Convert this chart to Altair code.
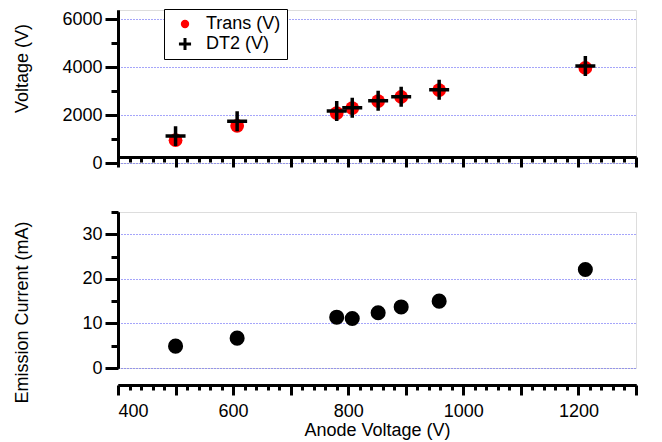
import altair as alt
import pandas as pd

# ---- data ----
anode = [500, 607, 780, 807, 852, 892, 958, 1212]
trans = [950, 1550, 2080, 2290, 2580, 2750, 3040, 3960]
dt2 = [1120, 1740, 2170, 2300, 2590, 2760, 3050, 4040]
emission = [4.9, 6.7, 11.4, 11.1, 12.4, 13.7, 15.0, 22.1]
series_names = ["Trans (V)", "DT2 (V)"]

x_major = list(range(400, 1301, 100))
x_minor = [v for v in range(400, 1301, 20) if v % 100 != 0]
v_major = [0, 2000, 4000, 6000]
v_minor = [1000, 3000, 5000]
c_major = [0, 10, 20, 30]
c_minor = [5, 15, 25, 35]

FONT = "Liberation Sans"
FS = 18
CROSS = "M -1.45 0 L 1.45 0 M 0 -1.45 L 0 1.45"
GRID = "#4a4af5"

volt_df = pd.DataFrame({
    "anode": anode + anode,
    "volt": trans + dt2,
    "series": [series_names[0]] * len(anode) + [series_names[1]] * len(anode),
})
em_df = pd.DataFrame({"anode": anode, "current": emission})

W = 518
H1 = 153
H2 = 156

xscale = alt.Scale(domain=[400, 1300], nice=False, zero=False)


def axis_common(**kw):
    base = dict(domainColor="black", domainWidth=3, tickColor="black", tickWidth=3,
                labelFont=FONT, labelFontSize=FS, labelColor="black", format="d",
                titleFont=FONT, titleFontSize=FS, titleColor="black", titleFontWeight="normal")
    base.update(kw)
    return alt.Axis(**base)


def x_axes(show_labels, offset, title):
    major = axis_common(orient="bottom", values=x_major, tickSize=10, offset=offset, grid=False,
                        labels=show_labels, labelPadding=7,
                        labelExpr="datum.value % 200 == 0 ? datum.label : ''",
                        title=title, titlePadding=1)
    minor = axis_common(orient="bottom", values=x_minor, tickSize=5, offset=offset, grid=False,
                        labels=False, title=None)
    return major, minor


def y_axes(maj, mino, title, title_y):
    major = axis_common(orient="left", values=maj, tickSize=13, grid=True, gridColor=GRID,
                        gridDash=[1, 2], gridWidth=1, labelPadding=3, title=title,
                        titleX=-96, titleY=title_y, titleAngle=270, titleAlign="center",
                        titleBaseline="middle")
    minor = axis_common(orient="left", values=mino, tickSize=7, grid=False, labels=False, title=None)
    return major, minor


legend = alt.Legend(orient="none", legendX=46, legendY=-1, title=None,
                    strokeColor="black", fillColor="white", padding=6,
                    symbolSize=70, symbolStrokeWidth=3, symbolOffset=6,
                    labelFont=FONT, labelFontSize=FS, labelColor="black",
                    rowPadding=2, clipHeight=18, labelOffset=12)

# ---------- top panel ----------
xa_maj, xa_min = x_axes(False, -6, None)
ya_maj, ya_min = y_axes(v_major, v_minor, "Voltage (V)", 58)
vscale = alt.Scale(domain=[0, 6375], nice=False, zero=False)

top_points = alt.Chart(volt_df).mark_point(strokeWidth=3.5, opacity=1, size=190).encode(
    x=alt.X("anode:Q", scale=xscale, axis=xa_maj),
    y=alt.Y("volt:Q", scale=vscale, axis=ya_maj),
    shape=alt.Shape("series:N", scale=alt.Scale(domain=series_names, range=["circle", CROSS]), legend=legend),
    fill=alt.Fill("series:N", scale=alt.Scale(domain=series_names, range=["red", "transparent"]), legend=legend),
    stroke=alt.Stroke("series:N", scale=alt.Scale(domain=series_names, range=["transparent", "black"]), legend=legend),
)
top_minor = alt.Chart(volt_df).mark_point(opacity=0).encode(
    x=alt.X("anode:Q", scale=xscale, axis=xa_min),
    y=alt.Y("volt:Q", scale=vscale, axis=ya_min),
)
top = alt.layer(top_points, top_minor).resolve_axis(x="independent", y="independent").properties(
    width=W, height=H1)

# ---------- bottom panel ----------
xb_maj, xb_min = x_axes(True, 17, "Anode Voltage (V)")
yb_maj, yb_min = y_axes(c_major, c_minor, "Emission Current (mA)", 100)
cscale = alt.Scale(domain=[0, 35], nice=False, zero=False)

bot_points = alt.Chart(em_df).mark_circle(size=227, color="black", opacity=1).encode(
    x=alt.X("anode:Q", scale=xscale, axis=xb_maj),
    y=alt.Y("current:Q", scale=cscale, axis=yb_maj),
)
bot_minor = alt.Chart(em_df).mark_point(opacity=0).encode(
    x=alt.X("anode:Q", scale=xscale, axis=xb_min),
    y=alt.Y("current:Q", scale=cscale, axis=yb_min),
)
bottom = alt.layer(bot_points, bot_minor).resolve_axis(x="independent", y="independent").properties(
    width=W, height=H2)

chart = alt.vconcat(top, bottom, spacing=37).properties(
    padding={"top": 0, "left": 4, "right": 5, "bottom": 0}
).configure_view(stroke=None).configure(font=FONT)

chart.save("out.html", embed_options={"renderer": "svg", "actions": False})
